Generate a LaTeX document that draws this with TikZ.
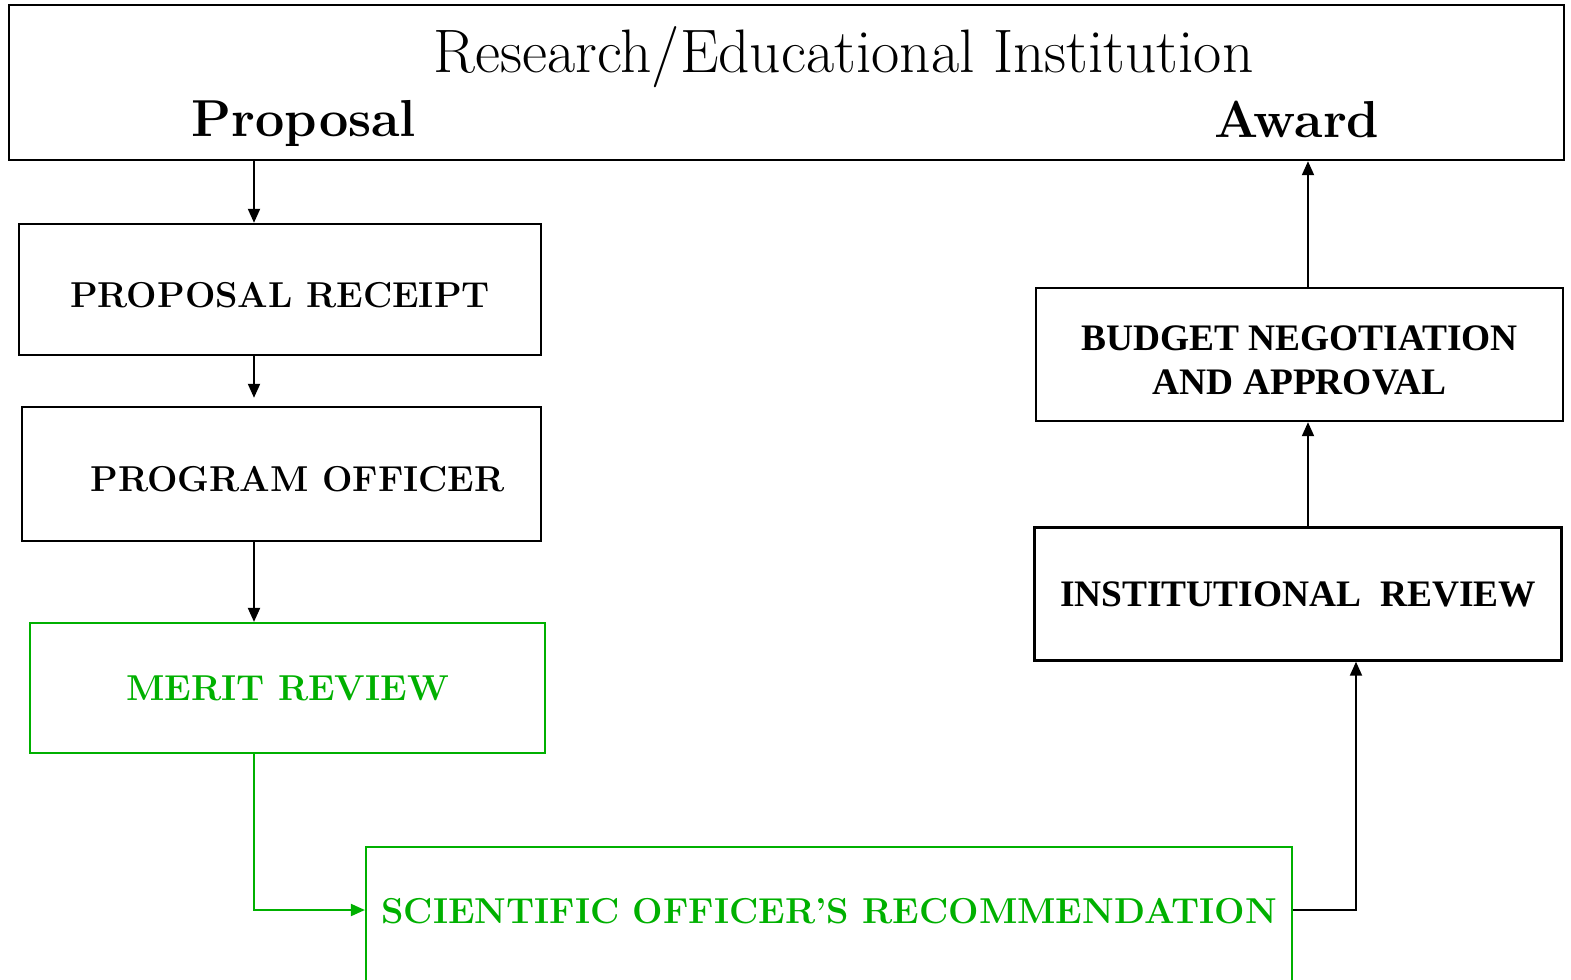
\documentclass[tikz,border=0pt]{standalone}
\usepackage{fontspec}
\newfontfamily\timesfont{Liberation Serif}
\usepackage{xcolor}
\usetikzlibrary{arrows.meta, calc, positioning}
\definecolor{sogreen}{RGB}{0,176,0}

\begin{document}
\begin{tikzpicture}[x=0.5pt, y=-0.5pt,
  blkbox/.style={shape=rectangle, draw=black, line width=1.2pt, fill=white, font=\fontsize{18}{22}\selectfont\bfseries},
  rbox/.style={blkbox, font=\fontsize{18.7}{22}\selectfont\timesfont\bfseries, align=center},
  grnbox/.style={shape=rectangle, draw=sogreen, line width=1.1pt, text=sogreen, font=\fontsize{18}{22}\selectfont\bfseries},
  arr/.style={line width=1pt, -{Triangle[length=7pt, width=6pt]}}]
\useasboundingbox (0,0) rectangle (1571,980);
%institution on top
\node[shape=rectangle, minimum height=77.5pt, minimum width=777.5pt, draw=black, line width=1.2pt] (org) at (786.5,82.5) {};
\node[font=\fontsize{30.7}{36}\selectfont] (orgname) at (843.5,57) {Research/Educational Institution};
\node[font=\fontsize{26}{32}\selectfont\bfseries] (prop) at (304,123) {Proposal};
\node[font=\fontsize{26}{32}\selectfont\bfseries] (award) at (1297,119) {Award};
%left column
\node[blkbox, minimum height=65.5pt, minimum width=261pt, text height=18pt] (rec) at (280,289.5) {PROPOSAL RECEIPT};
\node[blkbox, minimum height=67pt, minimum width=259.5pt, text height=18pt] (prog) at (281.5,474) {\hspace*{16pt}PROGRAM OFFICER};
\node[grnbox, minimum height=65pt, minimum width=257.5pt] (merit) at (287.5,688) {MERIT REVIEW};
\node[grnbox, minimum height=80pt, minimum width=463pt, text depth=16pt] (sci) at (829,927) {SCIENTIFIC OFFICER'S RECOMMENDATION};
%right column
\node[rbox, minimum height=66.5pt, minimum width=263.5pt] (inst) at (1298,594) {INSTITUTIONAL\ \ REVIEW};
\node[rbox, minimum height=66.5pt, minimum width=263.5pt, text height=40.5pt] (budget) at (1299.5,354.5) {BUDGET NEGOTIATION\\AND APPROVAL};
%
\coordinate (lcol) at (254,0);
\coordinate (rcol) at (1308,0);
\coordinate (rcol2) at (1356,0);
\draw[arr] (org.south -| lcol) -- (rec.north -| lcol);
\draw[arr, shorten >=4pt] (rec.south -| lcol) -- (prog.north -| lcol);
\draw[arr] (prog.south -| lcol) -- (merit.north -| lcol);
\draw[arr, sogreen] (merit.south -| lcol) |- ([yshift=8.5pt]sci.west);
\draw[arr] ([yshift=8.5pt]sci.east) -| (inst.south -| rcol2);
\draw[arr] (inst.north -| rcol) -- (budget.south -| rcol);
\draw[arr] (budget.north -| rcol) -- (org.south -| rcol);
\end{tikzpicture}
\end{document}
